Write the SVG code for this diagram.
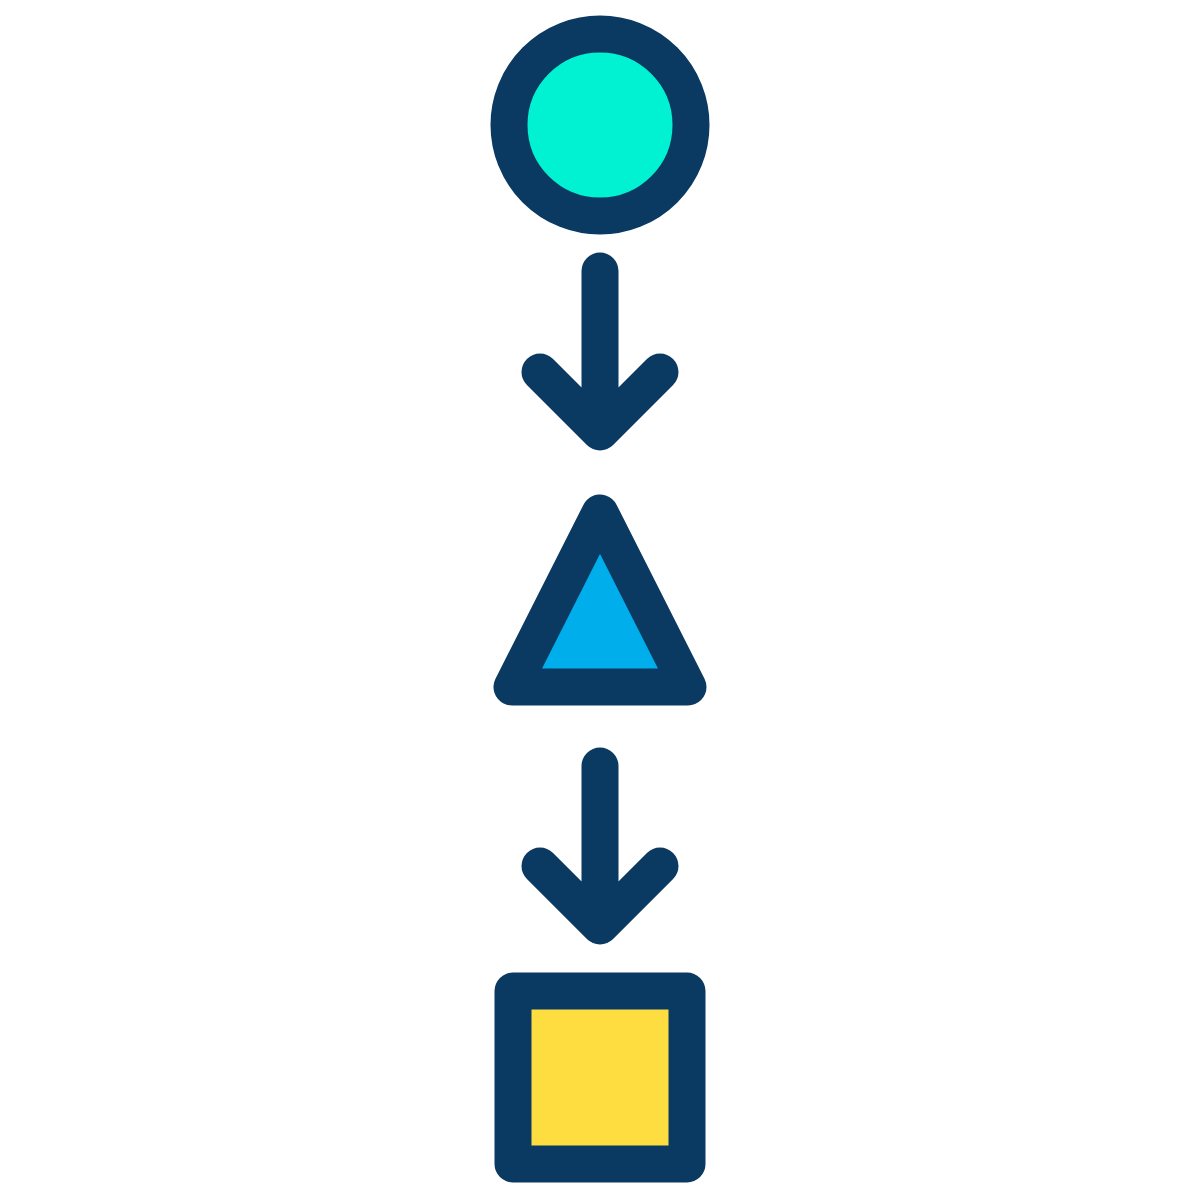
<svg xmlns="http://www.w3.org/2000/svg" width="1200" height="1200" viewBox="0 0 1200 1200">
<style>
.s{stroke:#0A3962;stroke-width:37;stroke-linecap:round;stroke-linejoin:round}
.a{fill:none}
</style>
<rect width="1200" height="1200" fill="#FFFFFF"/>
<g id="circle"><circle class="s" cx="600" cy="125" r="91" fill="#00F2D3"/></g>
<g id="triangle"><path class="s" d="M600 513 L512 687 L688 687 Z" fill="#00AEEB"/></g>
<g id="square"><rect class="s" x="513" y="991" width="174" height="173" fill="#FEDD40"/></g>
<g id="connectors">
<path class="s a" d="M600 271 V430 M540 372 L600 432 L660 372"/>
<path class="s a" d="M600 766 V925 M540 866 L600 926 L660 866"/>
</g>
</svg>
